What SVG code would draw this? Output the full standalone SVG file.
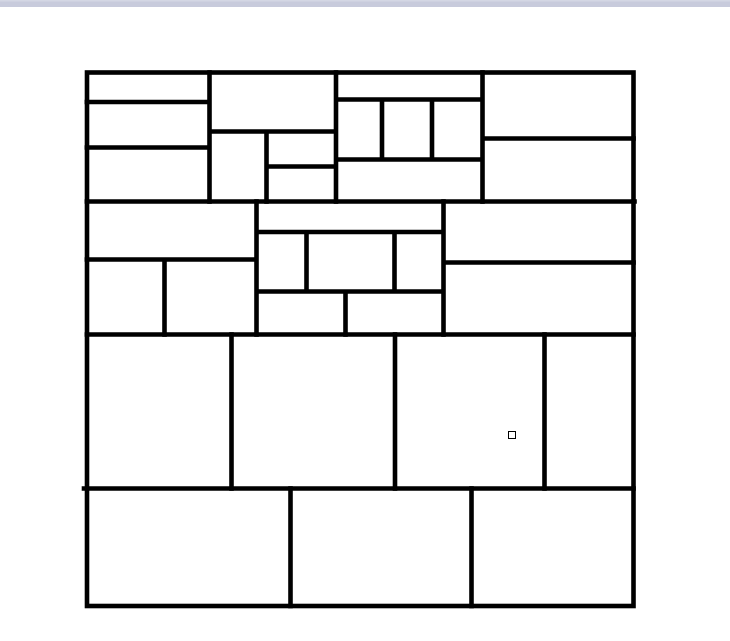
<svg xmlns="http://www.w3.org/2000/svg" width="730" height="641" viewBox="0 0 730 641">
<style>
.l{stroke:#000;stroke-width:4.6;fill:none;stroke-linecap:square}
.m{stroke:#000;stroke-width:1;fill:#fff}
</style>
<rect x="0" y="0" width="730" height="641" fill="#fff"/>
<rect x="0" y="0" width="730" height="7" fill="#c8cbdc"/>
<rect x="0" y="0" width="730" height="1.5" fill="#d4d7e4"/>
<g id="frame">
<rect class="l" x="87" y="72.5" width="546.5" height="533.5"/>
<path class="l" d="M87 201.5H634.5M87 334.5H633.5M84 488.5H633.5"/>
</g>
<g id="row1">
<path class="l" d="M209.5 72.5V201.5M87 102H209.5M87 147.5H209.5M209.5 131.5H336M266.5 131.5V201.5M266.5 166.5H336M336 72.5V201.5M336 99.5H482.5M336 159.5H482.5M382 99.5V159.5M432 99.5V159.5M482.5 72.5V201.5M482.5 138.5H633.5"/>
</g>
<g id="row2">
<path class="l" d="M256.5 201.5V334.5M87 259.5H256.5M164.5 259.5V334.5M256.5 232H443.5M256.5 291.5H443.5M306.5 232V291.5M394.5 232V291.5M345.5 291.5V334.5M443.5 201.5V334.5M443.5 262.5H633.5"/>
</g>
<g id="row3">
<path class="l" d="M231.5 334.5V488.5M395 334.5V488.5M544.5 334.5V488.5"/>
<rect class="m" x="508.5" y="431.5" width="7" height="7"/>
</g>
<g id="row4">
<path class="l" d="M290.5 488.5V606M471.5 488.5V606"/>
</g>
</svg>
